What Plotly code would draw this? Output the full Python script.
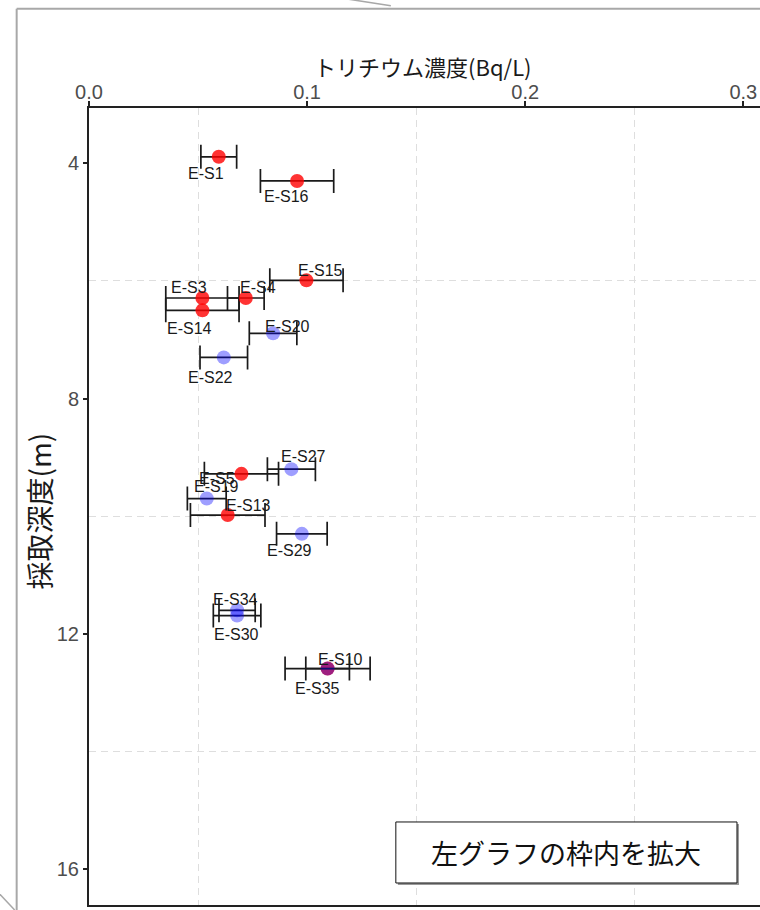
import plotly.graph_objects as go

# ---------------- data ----------------
sample_ids = ["E-S1", "E-S16", "E-S15", "E-S3", "E-S4", "E-S14", "E-S20", "E-S22",
              "E-S27", "E-S5", "E-S19", "E-S13", "E-S29", "E-S34", "E-S30", "E-S10", "E-S35"]
tritium = [0.0595, 0.0954, 0.0997, 0.0520, 0.0719, 0.0520, 0.0844, 0.0618,
           0.0928, 0.0699, 0.0540, 0.0636, 0.0976, 0.0679, 0.0679, 0.1094, 0.1094]
tritium_err = [0.0082, 0.0168, 0.0168, 0.0168, 0.0084, 0.0168, 0.0109, 0.0109,
               0.0110, 0.0170, 0.0089, 0.0171, 0.0116, 0.0083, 0.0109, 0.0195, 0.0100]
depth = [3.89, 4.30, 5.99, 6.29, 6.29, 6.50, 6.89, 7.30,
         9.20, 9.28, 9.70, 9.98, 10.30, 11.60, 11.69, 12.59, 12.59]
group = ["red", "red", "red", "red", "red", "red", "blue", "blue",
         "blue", "red", "blue", "red", "blue", "blue", "blue", "red", "blue"]

x_ticks = [0.0, 0.1, 0.2, 0.3]
y_ticks = [4, 8, 12, 16]
x_minor = [0.05, 0.15, 0.25]
y_minor = [6, 10, 14]

x_title = "トリチウム濃度(Bq/L)"
y_title = "採取深度(m)"
box_text = "左グラフの枠内を拡大"

# ---------------- layout helpers (pixel geometry) ----------------
W, H = 760, 910
L, R, T, B = 89.3, 760.0, 108.3, 905.0

def px(x):
    return (x - L) / (R - L)

def py(y):
    return (B - y) / (B - T)

# label offsets in pixels (dx right, dy down), same order as sample_ids
label_offsets = [(-13, 17), (-11, 16), (14, -10), (-13, -10), (12, -10), (-13, 18),
                 (14, -7), (-13, 20), (12, -13), (-24, 5), (10, -12), (21, -10),
                 (-12, 17), (-2, -11), (-1, 19), (13, -9), (-10, 20)]

colors = {"red": "rgba(255,0,0,0.8)", "blue": "rgba(0,0,255,0.38)"}

fig = go.Figure()
for g in ["red", "blue"]:
    idx = [i for i, v in enumerate(group) if v == g]
    fig.add_trace(go.Scatter(
        x=[tritium[i] for i in idx],
        y=[depth[i] for i in idx],
        mode="markers",
        marker=dict(size=14, color=colors[g], line=dict(width=0)),
        error_x=dict(type="data", array=[tritium_err[i] for i in idx],
                     visible=True, color="#1a1a1a", thickness=1.7, width=12),
        showlegend=False,
        hoverinfo="skip",
    ))

for i, name in enumerate(sample_ids):
    dx, dy = label_offsets[i]
    fig.add_annotation(x=tritium[i], y=depth[i], text=name, showarrow=False,
                       xanchor="center", yanchor="middle", xshift=dx, yshift=-dy,
                       font=dict(family="Liberation Sans", size=16, color="#1a1a1a"))

tick_font = dict(family="Liberation Sans", size=20, color="#4D4D4D")

fig.update_xaxes(
    side="top", range=[0, (R - L) / 2180.0], tickvals=x_ticks, tickformat=".1f",
    ticks="outside", ticklen=5, tickwidth=1.5, tickcolor="#222",
    ticklabelstandoff=-6,
    showline=True, linecolor="#222", linewidth=2, mirror=True,
    showgrid=False, zeroline=False, tickfont=tick_font,
    minor=dict(tickmode="array", tickvals=x_minor, showgrid=True,
               gridcolor="#DEDEDE", gridwidth=1.3, griddash="7px,5px", ticks=""),
)
fig.update_yaxes(
    range=[16.61, 3.06], tickvals=y_ticks,
    ticks="outside", ticklen=4, tickwidth=1.5, tickcolor="#222",
    showline=True, linecolor="#222", linewidth=2, mirror=False,
    showgrid=False, zeroline=False, tickfont=tick_font,
    minor=dict(tickmode="array", tickvals=y_minor, showgrid=True,
               gridcolor="#DEDEDE", gridwidth=1.3, griddash="7px,5px", ticks=""),
)

# axis titles placed as annotations for precise placement
fig.add_annotation(xref="paper", yref="paper", x=px(423), y=py(66), text=x_title,
                   showarrow=False, xanchor="center", yanchor="middle",
                   font=dict(family="Noto Sans CJK JP", size=22, color="#1a1a1a"))
fig.add_annotation(xref="paper", yref="paper", x=px(39), y=py(511), text=y_title,
                   textangle=-90, showarrow=False, xanchor="center", yanchor="middle",
                   font=dict(family="Noto Sans CJK JP", size=28, color="#1a1a1a"))

shapes = []
# outer frame lines (from the slide screenshot)
frame = dict(type="line", xref="paper", yref="paper", line=dict(color="#A8A8A8", width=2))
shapes.append(dict(frame, x0=px(17), x1=px(17), y0=py(9), y1=py(912)))
shapes.append(dict(frame, x0=px(17), x1=px(762), y0=py(9), y1=py(9)))
shapes.append(dict(frame, x0=px(345), x1=px(391), y0=py(-1), y1=py(6), line=dict(color="#A8A8A8", width=1.5)))
shapes.append(dict(frame, x0=px(-1), x1=px(15), y0=py(893), y1=py(910), line=dict(color="#A8A8A8", width=1.5)))
# caption box with shadow
shapes.append(dict(type="rect", xref="paper", yref="paper", x0=px(398), x1=px(739), y0=py(824), y1=py(885),
                   line=dict(width=0), fillcolor="#9A9A9A"))
shapes.append(dict(type="rect", xref="paper", yref="paper", x0=px(396), x1=px(737), y0=py(822), y1=py(883),
                   line=dict(color="#111", width=1), fillcolor="white"))
fig.update_layout(shapes=shapes)

fig.add_annotation(xref="paper", yref="paper", x=px(566.5), y=py(852.5), text=box_text,
                   showarrow=False, xanchor="center", yanchor="middle",
                   font=dict(family="Noto Sans CJK JP", size=27, color="#111"))

fig.update_layout(
    width=W, height=H,
    margin=dict(l=L, r=W - R, t=T, b=H - B, pad=0),
    plot_bgcolor="white", paper_bgcolor="white",
    showlegend=False,
)

fig.write_html("out.html")
